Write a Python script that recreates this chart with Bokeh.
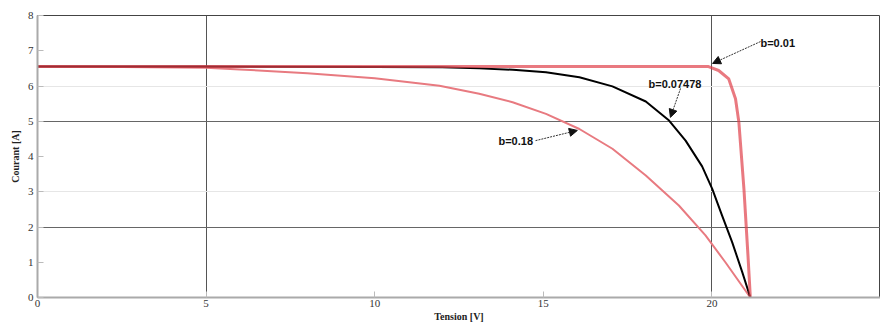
from bokeh.plotting import figure
from bokeh.models import Range1d, FixedTicker, Grid, Arrow, NormalHead, Label
from bokeh.embed import file_html
from bokeh.resources import INLINE

# Curve b=0.01
v_b001 = [0, 5, 10, 15, 19.9, 20.2, 20.5, 20.7, 20.8, 20.95, 21.07, 21.14]
i_b001 = [6.55, 6.55, 6.55, 6.55, 6.55, 6.44, 6.2, 5.64, 4.97, 3.08, 1.19, 0.0]
# Curve b=0.07478
v_b007 = [0, 5, 10, 12.0, 13.1, 14.1, 15.08, 16.07, 17.05, 18.04, 18.73, 19.22, 19.71, 20.01, 20.30, 20.60, 20.90, 21.14]
i_b007 = [6.55, 6.55, 6.54, 6.53, 6.50, 6.46, 6.39, 6.25, 5.99, 5.56, 5.02, 4.45, 3.72, 3.08, 2.33, 1.57, 0.72, 0.0]
# Curve b=0.18
v_b018 = [0, 2.5, 5.0, 6.0, 8.0, 10.0, 11.92, 13.1, 14.09, 15.08, 16.07, 17.05, 18.04, 19.02, 19.81, 20.40, 21.14]
i_b018 = [6.55, 6.54, 6.52, 6.47, 6.36, 6.22, 6.01, 5.78, 5.54, 5.21, 4.78, 4.22, 3.46, 2.61, 1.76, 1.00, 0.0]

x_ticks = [0, 5, 10, 15, 20, 25]
y_ticks = [0, 1, 2, 3, 4, 5, 6, 7, 8]

p = figure(width=880, height=331, output_backend="svg", toolbar_location=None,
           x_range=Range1d(0, 25), y_range=Range1d(0, 8),
           min_border_left=37, min_border_right=0, min_border_top=15, min_border_bottom=34)
p.outline_line_color = "#444444"
p.outline_line_width = 1
p.background_fill_color = "white"
p.border_fill_color = "white"

p.xaxis.ticker = FixedTicker(ticks=x_ticks)
p.yaxis.ticker = FixedTicker(ticks=y_ticks)
p.xaxis.major_label_overrides = {25: ""}
for ax in (p.xaxis[0], p.yaxis[0]):
    ax.axis_line_color = "#aaaaaa"
    ax.axis_line_width = 2
    ax.major_tick_in = 6
    ax.major_tick_out = 0
    ax.major_tick_line_color = "#bbbbbb"
    ax.minor_tick_line_color = None
    ax.major_label_text_font = "Liberation Serif"
    ax.major_label_text_font_size = "11px"
    ax.major_label_text_color = "#333333"
    ax.axis_label_text_font = "Liberation Serif"
    ax.axis_label_text_font_size = "10px"
    ax.axis_label_text_font_style = "bold"
    ax.axis_label_text_color = "#222222"
p.xaxis.axis_label = "Tension [V]"
p.yaxis.axis_label = "Courant [A]"
p.xaxis.major_label_standoff = 2
p.xaxis.axis_label_standoff = 1
p.yaxis.major_label_standoff = 4
p.yaxis.axis_label_standoff = 4

p.xgrid.ticker = FixedTicker(ticks=[5, 20])
p.xgrid.grid_line_color = "#555555"
p.ygrid.ticker = FixedTicker(ticks=[2, 5])
p.ygrid.grid_line_color = "#666666"
p.add_layout(Grid(dimension=1, ticker=FixedTicker(ticks=[3, 6]), grid_line_color="#e6e6e6"))

p.line(v_b018, i_b018, line_color="#e87a80", line_width=2, line_join="round")
p.line(v_b007, i_b007, line_color="black", line_width=2, line_join="round")
p.line(v_b001, i_b001, line_color="#e0404a", line_alpha=0.7, line_width=3, line_join="round")

def annotate(text, tx, ty, x0, y0, x1, y1):
    p.add_layout(Label(x=tx, y=ty, text=text, text_font="Liberation Sans", text_font_size="11px",
                       text_font_style="bold", text_color="#111111", text_baseline="middle"))
    p.add_layout(Arrow(x_start=x0, y_start=y0, x_end=x1, y_end=y1, line_dash="2 1", line_width=1,
                       line_color="#333333",
                       end=NormalHead(size=8, fill_color="#111111", line_color="#111111")))

annotate("b=0.01", 21.44, 7.23, 21.44, 7.26, 20.02, 6.64)
annotate("b=0.07478", 18.12, 6.07, 19.07, 5.93, 18.77, 5.11)
annotate("b=0.18", 13.67, 4.43, 14.77, 4.45, 16.01, 4.74)

open("out.html", "w").write(file_html(p, INLINE))
